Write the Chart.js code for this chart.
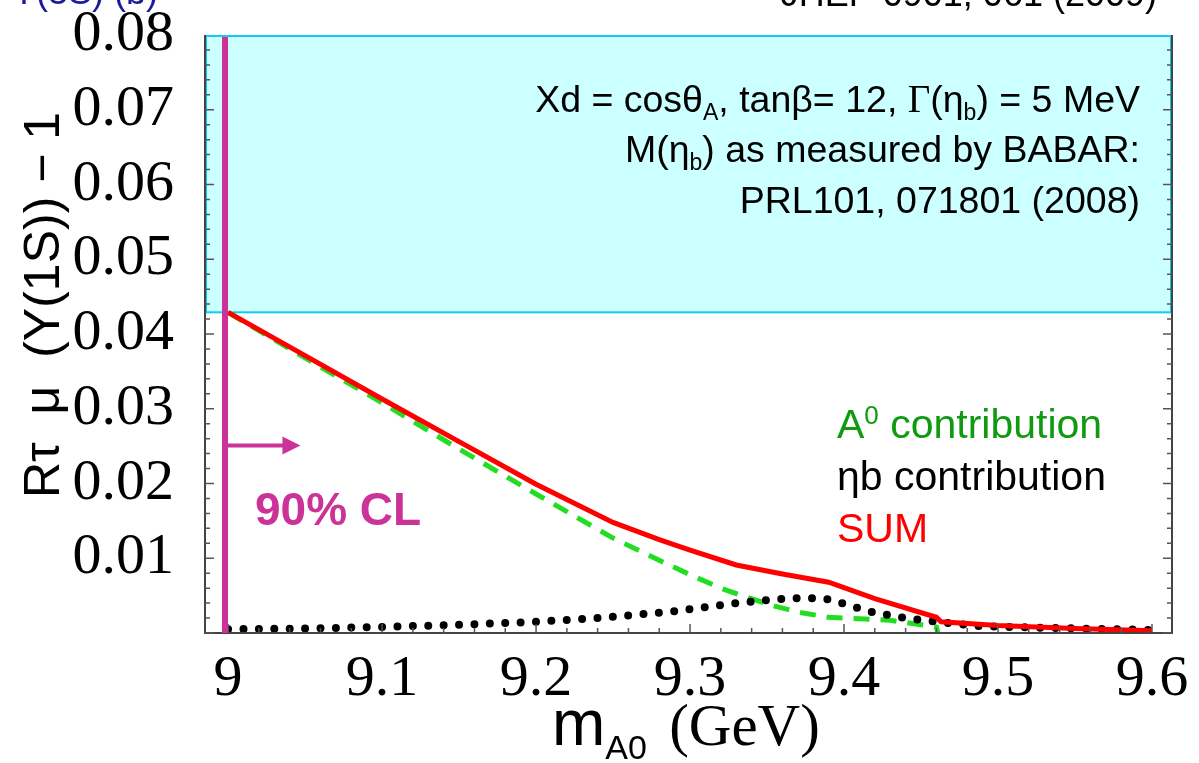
<!DOCTYPE html>
<html>
<head>
<meta charset="utf-8">
<script src="https://cdn.jsdelivr.net/npm/chart.js@4.4.0/dist/chart.umd.min.js"></script>
<style>
  html, body { margin: 0; padding: 0; background: #fff; }
</style>
</head>
<body>
<canvas id="chart" width="1199" height="763"></canvas>
<script>
// SUM (red)
const massSum = [9.0, 9.05, 9.1, 9.15, 9.2, 9.25, 9.28, 9.3, 9.33, 9.36, 9.39, 9.42, 9.46, 9.463, 9.5, 9.55, 9.6];
const sumVal  = [0.0429, 0.0371, 0.0313, 0.0256, 0.0199, 0.0148, 0.0125, 0.0111, 0.0091, 0.0079, 0.0068, 0.0046, 0.0021, 0.0015, 0.0010, 0.0006, 0.0003];

// A0 contribution (green dashed)
const massA0 = [9.0, 9.05, 9.1, 9.15, 9.2, 9.25, 9.27, 9.3, 9.32, 9.335, 9.355, 9.37, 9.39, 9.41, 9.43, 9.45, 9.46, 9.461];
const a0Val  = [0.0429, 0.0368, 0.0308, 0.0246, 0.0186, 0.0127, 0.0107, 0.0078, 0.0060, 0.0049, 0.0036, 0.0028, 0.0021, 0.0019, 0.0017, 0.0011, 0.0008, 0.0];

// eta_b contribution (black dotted)
const massEtab = [9.0, 9.05, 9.1, 9.15, 9.2, 9.24, 9.29, 9.33, 9.355, 9.375, 9.39, 9.40, 9.41, 9.42, 9.44, 9.46, 9.49, 9.53, 9.6];
const etabVal  = [0.0005, 0.0006, 0.0008, 0.0011, 0.0015, 0.0020, 0.0029, 0.0040, 0.0045, 0.0047, 0.0045, 0.0039, 0.0033, 0.0027, 0.0020, 0.0015, 0.0009, 0.0007, 0.0004];

const xTickValues = [9.0, 9.1, 9.2, 9.3, 9.4, 9.5, 9.6];
const xTickLabels = ["9", "9.1", "9.2", "9.3", "9.4", "9.5", "9.6"];
const yTickValues = [0.01, 0.02, 0.03, 0.04, 0.05, 0.06, 0.07, 0.08];
const yTickLabels = ["0.01", "0.02", "0.03", "0.04", "0.05", "0.06", "0.07", "0.08"];

const excludedBelow = 0.0429;  // bottom of the cyan (excluded) band
const clMass = 8.998;          // 90% CL limit line
const arrowY = 0.0251;
const arrowTo = 9.047;

const MAGENTA = "#cc3399";

function pts(xs, ys) {
    return xs.map((x, i) => ({ x: x, y: ys[i] }));
}

// draws pieces of text with different fonts / offsets one after the other
function richText(ctx, parts, x, y, align) {
    let w = 0;
    parts.forEach(p => { ctx.font = p[1]; w += ctx.measureText(p[0]).width; });
    let cx = align === "right" ? x - w : x;
    parts.forEach(p => {
        ctx.font = p[1];
        ctx.fillText(p[0], cx, y + (p[2] || 0));
        cx += ctx.measureText(p[0]).width;
    });
}

const decor = {
    id: "decor",
    beforeDatasetsDraw(chart) {
        const { ctx, chartArea: a, scales: { y } } = chart;
        const yb = y.getPixelForValue(excludedBelow);
        ctx.save();
        ctx.fillStyle = "#ccffff";
        ctx.fillRect(a.left, a.top, a.right - a.left, yb - a.top);
        ctx.strokeStyle = "#11ccee";
        ctx.lineWidth = 2;
        ctx.strokeRect(a.left + 1, a.top + 1, a.right - a.left - 2, yb - a.top - 1);
        ctx.restore();
    },
    afterDatasetsDraw(chart) {
        const { ctx, chartArea: a, scales: { x, y } } = chart;
        ctx.save();

        // frame
        ctx.strokeStyle = "#444";
        ctx.lineWidth = 2;
        ctx.beginPath();
        ctx.moveTo(a.left, a.top);
        ctx.lineTo(a.left, a.bottom);
        ctx.lineTo(a.right, a.bottom);
        ctx.lineTo(a.right, a.top);
        ctx.stroke();

        // inward ticks
        ctx.lineWidth = 1.5;
        ctx.strokeStyle = "#555";
        ctx.beginPath();
        for (let i = 0; i <= 40; i++) {
            const v = i * 0.002;
            const py = y.getPixelForValue(v);
            if (py < a.top + 2) continue;
            const len = i % 5 === 0 ? 9 : 5;
            ctx.moveTo(a.left, py); ctx.lineTo(a.left + len, py);
            ctx.moveTo(a.right, py); ctx.lineTo(a.right - len, py);
        }
        for (let i = -1; i <= 31; i++) {
            const v = 9 + i * 0.02;
            const px = x.getPixelForValue(v);
            if (px <= a.left + 1 || px >= a.right - 1) continue;
            const len = (i % 5 === 0) ? 9 : 5;
            ctx.moveTo(px, a.bottom); ctx.lineTo(px, a.bottom - len);
        }
        ctx.stroke();

        // 90% CL line and arrow
        const lx = x.getPixelForValue(clMass);
        ctx.strokeStyle = MAGENTA;
        ctx.fillStyle = MAGENTA;
        ctx.lineWidth = 6;
        ctx.beginPath();
        ctx.moveTo(lx, a.top + 2);
        ctx.lineTo(lx, a.bottom);
        ctx.stroke();
        const ay = y.getPixelForValue(arrowY);
        const ax = x.getPixelForValue(arrowTo);
        ctx.lineWidth = 4;
        ctx.beginPath();
        ctx.moveTo(lx, ay);
        ctx.lineTo(ax - 14, ay);
        ctx.stroke();
        ctx.beginPath();
        ctx.moveTo(ax, ay);
        ctx.lineTo(ax - 18, ay - 9);
        ctx.lineTo(ax - 18, ay + 9);
        ctx.closePath();
        ctx.fill();
        ctx.font = "bold 46px 'Liberation Sans'";
        ctx.textBaseline = "alphabetic";
        ctx.textAlign = "left";
        ctx.fillText("90% CL", 255, 525);

        // parameters in the cyan band
        ctx.fillStyle = "#000";
        const S = "37.5px 'Liberation Sans'";
        const s = "23px 'Liberation Sans'";
        const G = "39px 'Liberation Serif'";
        richText(ctx, [["Xd = cosθ", S], ["A", s, 8], [", tanβ= 12, ", S], ["Γ", G], ["(η", S], ["b", s, 8], [") = 5 MeV", S]], 1140, 112, "right");
        richText(ctx, [["M(η", S], ["b", s, 8], [") as measured by BABAR:", S]], 1140, 162, "right");
        richText(ctx, [["PRL101, 071801 (2008)", S]], 1140, 213, "right");

        // legend text
        const L = "41px 'Liberation Sans'";
        ctx.fillStyle = "#109a10";
        richText(ctx, [["A", L], ["0", "26px 'Liberation Sans'", -14], [" contribution", L]], 837, 438, "left");
        ctx.fillStyle = "#000";
        richText(ctx, [["ηb contribution", L]], 837, 490, "left");
        ctx.fillStyle = "#ff0000";
        richText(ctx, [["SUM", L]], 837, 542, "left");

        ctx.restore();
    },
    afterDraw(chart) {
        const ctx = chart.ctx;
        ctx.save();
        ctx.fillStyle = "#000";
        ctx.textBaseline = "alphabetic";
        ctx.textAlign = "left";

        // x axis title
        richText(ctx, [["m", "64px 'Liberation Sans'"], ["A0", "34px 'Liberation Sans'", 14], ["  ", "40px 'Liberation Sans'"], ["(GeV)", "59px 'Liberation Serif'"]], 552, 745, "left");

        // y axis title
        ctx.translate(45, 305);
        ctx.rotate(-Math.PI / 2);
        ctx.textAlign = "center";
        ctx.textBaseline = "middle";
        ctx.font = "50px 'Liberation Sans'";
        ctx.fillText("Rτ  μ  (Y(1S)) − 1", 0, 0);
        ctx.restore();

        // texts cut by the top edge
        ctx.save();
        ctx.textBaseline = "alphabetic";
        ctx.font = "36px 'Liberation Sans'";
        ctx.fillStyle = "#000";
        ctx.textAlign = "right";
        ctx.fillText("JHEP 0901, 061 (2009)", 1157, 6);
        ctx.fillStyle = "#1a1a99";
        ctx.textAlign = "left";
        ctx.fillText("Υ(3S) (b)", 12, 4);
        ctx.restore();
    }
};

new Chart(document.getElementById("chart"), {
    type: "line",
    data: {
        datasets: [
            {
                label: "SUM",
                data: pts(massSum, sumVal),
                borderColor: "#ff0000",
                borderWidth: 5,
                pointRadius: 0,
                order: 1
            },
            {
                label: "ηb contribution",
                data: pts(massEtab, etabVal),
                borderColor: "#000",
                borderWidth: 8,
                borderDash: [0, 15.4],
                borderCapStyle: "round",
                pointRadius: 0,
                order: 2
            },
            {
                label: "A0 contribution",
                data: pts(massA0, a0Val),
                borderColor: "#22dd22",
                borderWidth: 5,
                borderDash: [16, 11],
                pointRadius: 0,
                order: 3
            }
        ]
    },
    options: {
        responsive: false,
        animation: false,
        layout: { padding: { left: 0, right: 27, top: 35, bottom: 0 } },
        plugins: {
            legend: { display: false },
            tooltip: { enabled: false }
        },
        scales: {
            x: {
                type: "linear",
                min: 8.985,
                max: 9.613,
                afterFit: s => { s.height = 130; s.paddingLeft = 0; s.paddingRight = 0; },
                afterBuildTicks: s => { s.ticks = xTickValues.map(v => ({ value: v })); },
                grid: { display: false },
                border: { display: false },
                ticks: {
                    color: "#000",
                    font: { family: "'Liberation Serif'", size: 58 },
                    padding: 4,
                    maxRotation: 0,
                    autoSkip: false,
                    callback: (v, i) => xTickLabels[i]
                }
            },
            y: {
                type: "linear",
                min: 0,
                max: 0.08,
                afterFit: s => { s.width = 205; s.paddingTop = 0; s.paddingBottom = 0; },
                afterBuildTicks: s => { s.ticks = yTickValues.map(v => ({ value: v })); },
                grid: { display: false },
                border: { display: false },
                ticks: {
                    color: "#000",
                    font: { family: "'Liberation Serif'", size: 58 },
                    padding: 23,
                    autoSkip: false,
                    callback: (v, i) => yTickLabels[i]
                }
            }
        }
    },
    plugins: [decor]
});
</script>
</body>
</html>
